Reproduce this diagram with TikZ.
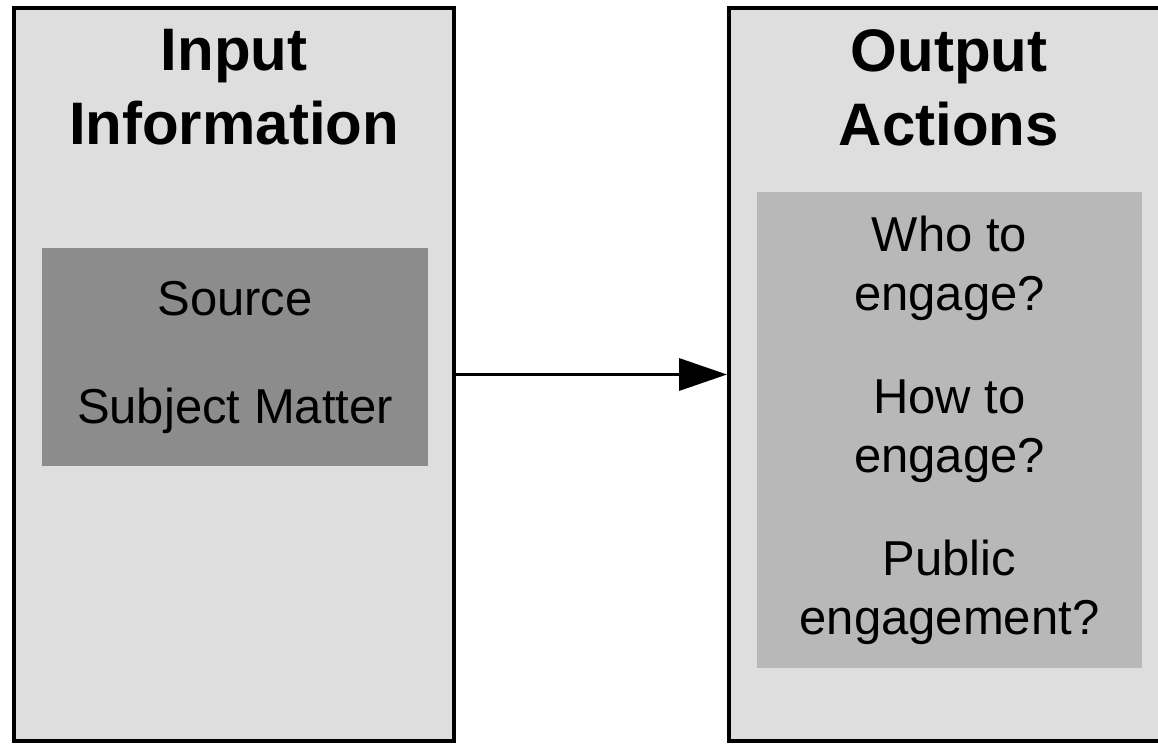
\documentclass[tikz,border=0pt]{standalone}
\usepackage{fontspec}
\setmainfont{Liberation Sans}
\usetikzlibrary{positioning, arrows.meta}
\definecolor{panelgray}{gray}{0.87}
\definecolor{srcgray}{gray}{0.55}
\definecolor{actgray}{gray}{0.72}
\tikzset{
x=0.5pt, y=-0.5pt, % one unit is one pixel of the sketch, y runs down
>={Triangle[length=24pt, width=16pt]}, % big solid arrow head
panel/.style={draw, line width=2pt, fill=panelgray, minimum width=220pt, minimum height=366.5pt, inner sep=0pt}, % the two tall boxes
itembox/.style={fill=#1, inner sep=0pt, align=center, font=\fontsize{24.5}{29.5}\selectfont}, % the grey boxes inside
heading/.style={align=center, inner sep=0pt, font=\bfseries\fontsize{30}{37}\selectfont}, % bold titles
}
\begin{document}
\begin{tikzpicture}
    \useasboundingbox (0,0) rectangle (1158,744);
    \clip (0,0) rectangle (1158,744);
        \node[panel] (inpanel) at (234,374.5) {};
        \node[panel] (outpanel) at (949,374.5) {};
        \node[heading, below=11.5pt of inpanel.north] (intitle) {Input\\Information};
        \node[heading, below=11.5pt of outpanel.north] (outtitle) {Output\\Actions};

        \node[itembox=srcgray, minimum width=193pt, minimum height=109pt] (source) at (235,357)
            {Source\\[24.5pt]Subject Matter};
        \node[itembox=actgray, minimum width=192.5pt, minimum height=238pt] (actions) at (949.5,430)
            {Who to\\engage?\\[22pt]How to\\engage?\\[22pt]Public\\engagement?};

        \draw[->, line width=1.75pt] (inpanel.east) -- (outpanel.west);
\end{tikzpicture}
\end{document}
